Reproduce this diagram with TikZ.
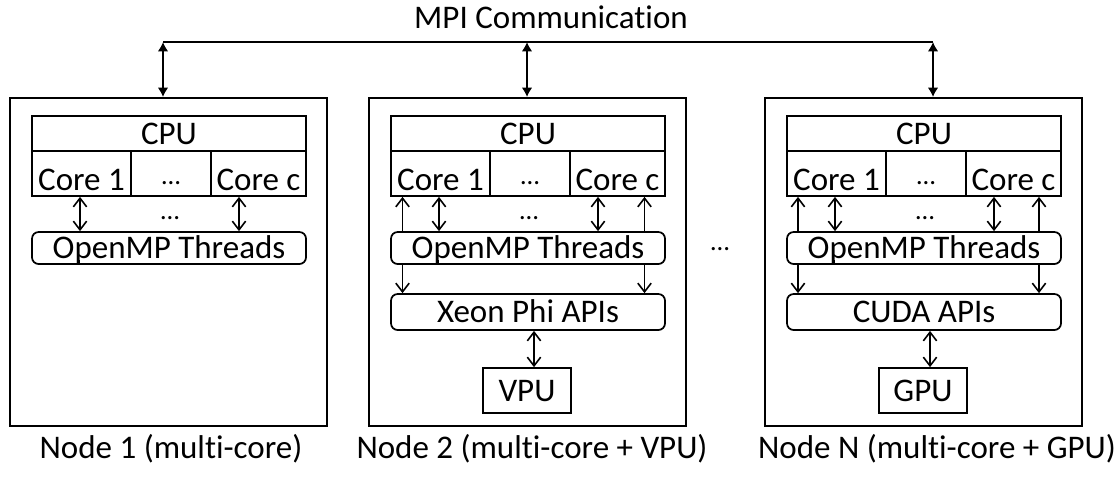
\documentclass[tikz,border=0pt]{standalone}
\usepackage{fontspec}
\setmainfont{Carlito}[Ligatures=NoCommon]
\usetikzlibrary{arrows.meta,backgrounds}

% One compute node: frame, CPU with its cores, OpenMP layer and core links.
% #1 = name prefix, #2 = horizontal offset in px
\newcommand\cpublock[2]{%
  \node[frame, sz={317}{328}] (#1) at (168.5+#2,262) {};
  \node[cell, sz={274}{35}] (#1cpu) at (169+#2,133.5) {CPU};
  \node[corecell, sz={99}{45}] (#1c1) at (81.5+#2,173.5) {Core 1};
  \node[cell, sz={80}{45}] (#1cm) at (171+#2,173.5) {\dotsfont …};
  \node[corecell, sz={95}{45}] (#1cc) at (258.5+#2,173.5) {Core c};
  \node[api, sz={274}{32}] (#1omp) at (169+#2,248) {OpenMP Threads};
  \draw[link] (80+#2,0 |- #1c1.south) -- (80+#2,0 |- #1omp.north);
  \draw[link] (239+#2,0 |- #1cc.south) -- (239+#2,0 |- #1omp.north);
  \node[anchor=base] (#1dots) at (170+#2,219) {\dotsfont …};
  \draw[stub] (79+#2,0 |- #1omp.south) -- ++(0,-5);
}
\newcommand\dotsfont{\fontsize{20pt}{22pt}\selectfont}

\begin{document}
\begin{tikzpicture}[x=0.75pt,y=-0.75pt,
  font=\fontsize{24.75pt}{29pt}\selectfont,
  sz/.style 2 args={minimum width=#1*0.75pt, minimum height=#2*0.75pt},
  frame/.style={draw, line width=1.5pt, inner sep=0pt},
  cell/.style={draw, line width=1.3pt, inner sep=0pt, text height=16pt, text depth=0pt},
  corecell/.style={cell, text height=24.75pt},
  api/.style={cell, rounded corners=5pt, fill=white},
  bus/.style={line width=1.5pt},
  mpi/.style={{Latex[length=7pt,width=8pt]}-{Latex[length=7pt,width=8pt]}, line width=1.5pt},
  link/.style={{Straight Barb[length=6.5pt,width=10pt]}-{Straight Barb[length=6.5pt,width=10pt]}, line width=1.2pt},
  stub/.style={line width=1.1pt}]
\useasboundingbox (0,0) rectangle (1119,476);

% compute nodes
\cpublock{n1}{0}
\cpublock{n2}{359}
\cpublock{nN}{755}

% accelerator stacks
\node[api, sz={274}{36}] (n2api) at (528,312) {Xeon Phi APIs};
\node[cell, sz={88}{45}] (n2pu) at (527,390.5) {VPU};
\draw[link] (534,0 |- n2api.south) -- (534,0 |- n2pu.north);

\node[api, sz={274}{36}] (nNapi) at (924,312) {CUDA APIs};
\node[cell, sz={88}{45}] (nNpu) at (923,390.5) {GPU};
\draw[link] (930,0 |- nNapi.south) -- (930,0 |- nNpu.north);

% core-to-accelerator links pass behind the OpenMP layer
\begin{scope}[on background layer]
  \draw[link] (402.5,0 |- n2c1.south) -- (402.5,0 |- n2api.north);
  \draw[link] (644.5,0 |- n2cc.south) -- (644.5,0 |- n2api.north);
  \draw[link] (798,0 |- nNc1.south) -- (798,0 |- nNapi.north);
  \draw[link] (1039,0 |- nNcc.south) -- (1039,0 |- nNapi.north);
\end{scope}

\node[anchor=base] (gap) at (720,250) {\dotsfont …};

% MPI bus
\node[anchor=base] (mpitxt) at (551,28) {MPI Communication};
\coordinate (b1) at (163,42);
\coordinate (b2) at (527,42);
\coordinate (bN) at (933,42);
\draw[bus] (b1) -- (bN);
\draw[mpi] (b1) -- (b1 |- n1.north);
\draw[mpi] (b2) -- (b2 |- n2.north);
\draw[mpi] (bN) -- (bN |- nN.north);

% captions
\node[anchor=base] (cap1) at (171,458) {Node 1 (multi-core)};
\node[anchor=base] (cap2) at (532,458) {Node 2 (multi-core + VPU)};
\node[anchor=base] (capN) at (937,458) {Node N (multi-core + GPU)};
\end{tikzpicture}
\end{document}
